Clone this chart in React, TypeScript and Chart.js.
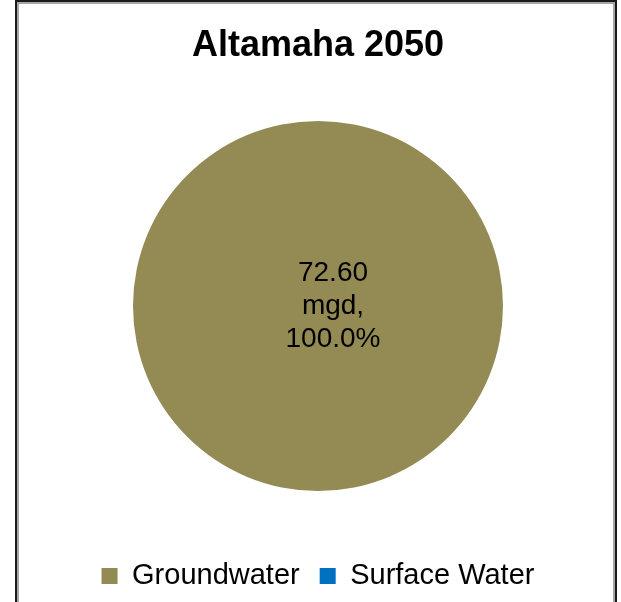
import React, { useEffect, useRef } from "react";
import { Chart, registerables } from "chart.js";

Chart.register(...registerables);

const chartTitle = "Altamaha 2050";
const categories = ["Groundwater", "Surface Water"];
const values = [72.6, 0];
const sliceColors = ["#948A54", "#0070C0"];
const unitLabel = "mgd";

const FONT = "'Liberation Sans', Arial, sans-serif";

const labelPlugin = {
  id: "sliceLabels",
  afterDatasetsDraw(chart: any) {
    const meta = chart.getDatasetMeta(0);
    const data = chart.data.datasets[0].data as number[];
    const total = data.reduce((a, b) => a + b, 0);
    const ctx = chart.ctx;
    ctx.save();
    ctx.font = `28px ${FONT}`;
    ctx.fillStyle = "#000";
    ctx.textAlign = "center";
    ctx.textBaseline = "middle";
    meta.data.forEach((arc: any, i: number) => {
      const v = data[i];
      if (!v) return;
      const pct = ((v / total) * 100).toFixed(1) + "%";
      const lines = [v.toFixed(2), unitLabel + ",", pct];
      const x = arc.x + 15;
      const lh = 33;
      const y0 = arc.y - lh;
      lines.forEach((t, k) => ctx.fillText(t, x, y0 + k * lh));
    });
    ctx.restore();
  },
};

export default function App() {
  const ref = useRef<HTMLCanvasElement | null>(null);
  useEffect(() => {
    document.body.style.margin = "0";
    document.body.style.overflow = "hidden";
    const chart = new Chart(ref.current as HTMLCanvasElement, {
      type: "pie",
      data: {
        labels: categories,
        datasets: [
          {
            data: values,
            backgroundColor: sliceColors,
            borderWidth: 0,
            radius: 185,
          },
        ],
      },
      options: {
        animation: false,
        responsive: false,
        layout: { padding: { left: 15, right: 0, top: 0, bottom: 1.5 } },
        plugins: {
          title: {
            display: true,
            text: chartTitle,
            color: "#000",
            font: { family: FONT, size: 36, weight: "bold" },
            padding: { top: 24.4, bottom: 2.9 },
          },
          legend: {
            position: "bottom",
            labels: {
              color: "#000",
              font: { family: FONT, size: 29 },
              boxWidth: 16,
              boxHeight: 16,
              padding: 20,
            },
          },
          tooltip: { enabled: false },
        },
      },
      plugins: [labelPlugin],
    });
    return () => chart.destroy();
  }, []);
  return (
    <div style={{ position: "relative", width: 621, height: 602, overflow: "hidden", background: "#fff" }}>
      <canvas ref={ref} width={621} height={602} style={{ position: "absolute", left: 0, top: 0 }} />
      <div
        style={{
          position: "absolute",
          left: 15,
          top: 0,
          width: 598,
          height: 640,
          borderLeft: "2px solid #1a1a1a",
          borderRight: "2px solid #1a1a1a",
          borderTop: "2px solid #1a1a1a",
          boxShadow: "inset 0 0 0 2px #a6a6a6",
          pointerEvents: "none",
        }}
      />
    </div>
  );
}
